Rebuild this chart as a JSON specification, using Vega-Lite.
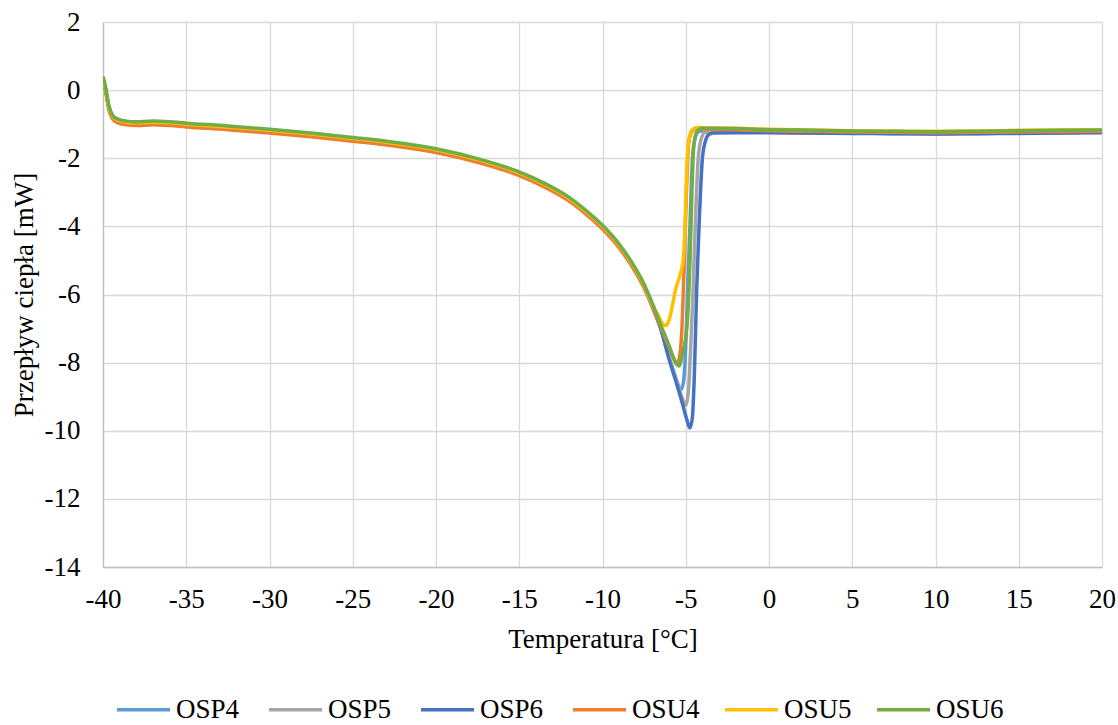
{
  "$schema": "https://vega.github.io/schema/vega-lite/v6.json",
  "width": 999,
  "height": 545,
  "autosize": "none",
  "padding": {"left": 103, "top": 22, "right": 16, "bottom": 158},
  "background": "white",
  "config": {
    "font": "Liberation Serif",
    "view": {"stroke": null},
    "axis": {"labelFont": "Liberation Serif", "titleFont": "Liberation Serif", "labelFontSize": 27, "titleFontSize": 27, "labelColor": "black", "titleColor": "black", "titleFontWeight": "normal", "gridColor": "#D9D9D9", "gridWidth": 1.3, "domainColor": "#BFBFBF", "domainWidth": 1.3, "ticks": false}
  },
  "data": {"values": [
    {"s":"OSP4","t":-40,"v":0.31},{"s":"OSP4","t":-39.85,"v":0.01},{"s":"OSP4","t":-39.65,"v":-0.54},{"s":"OSP4","t":-39.4,"v":-0.84},{"s":"OSP4","t":-39.1,"v":-0.94},{"s":"OSP4","t":-38.6,"v":-1.0},{"s":"OSP4","t":-38,"v":-1.02},{"s":"OSP4","t":-37,"v":-1.0},{"s":"OSP4","t":-36,"v":-1.02},{"s":"OSP4","t":-35,"v":-1.06},{"s":"OSP4","t":-32.5,"v":-1.14},{"s":"OSP4","t":-30,"v":-1.24},{"s":"OSP4","t":-27.5,"v":-1.35},{"s":"OSP4","t":-25,"v":-1.48},{"s":"OSP4","t":-22.5,"v":-1.62},{"s":"OSP4","t":-20,"v":-1.81},{"s":"OSP4","t":-17.5,"v":-2.1},{"s":"OSP4","t":-15,"v":-2.49},{"s":"OSP4","t":-13.5,"v":-2.82},{"s":"OSP4","t":-12,"v":-3.24},{"s":"OSP4","t":-11,"v":-3.62},{"s":"OSP4","t":-10,"v":-4.06},{"s":"OSP4","t":-9,"v":-4.61},{"s":"OSP4","t":-8,"v":-5.34},{"s":"OSP4","t":-7.5,"v":-5.79},{"s":"OSP4","t":-7,"v":-6.36},
    {"s":"OSP4","t":-6.5,"v":-7.02},{"s":"OSP4","t":-6,"v":-7.85},{"s":"OSP4","t":-5.7,"v":-8.3},{"s":"OSP4","t":-5.5,"v":-8.6},{"s":"OSP4","t":-5.3,"v":-8.8},{"s":"OSP4","t":-5.15,"v":-8.6},{"s":"OSP4","t":-5.0,"v":-7.5},{"s":"OSP4","t":-4.9,"v":-6.0},{"s":"OSP4","t":-4.75,"v":-4.0},{"s":"OSP4","t":-4.6,"v":-2.0},{"s":"OSP4","t":-4.45,"v":-1.45},{"s":"OSP4","t":-4.3,"v":-1.25},{"s":"OSP4","t":-4.1,"v":-1.2},{"s":"OSP4","t":-3.5,"v":-1.22},{"s":"OSP4","t":-2,"v":-1.23},{"s":"OSP4","t":0,"v":-1.24},{"s":"OSP4","t":2.5,"v":-1.25},{"s":"OSP4","t":5,"v":-1.26},{"s":"OSP4","t":7.5,"v":-1.27},{"s":"OSP4","t":10,"v":-1.28},{"s":"OSP4","t":12.5,"v":-1.27},{"s":"OSP4","t":15,"v":-1.26},{"s":"OSP4","t":17.5,"v":-1.25},{"s":"OSP4","t":20,"v":-1.24},

    {"s":"OSP5","t":-40,"v":0.33},{"s":"OSP5","t":-39.85,"v":0.03},{"s":"OSP5","t":-39.65,"v":-0.52},{"s":"OSP5","t":-39.4,"v":-0.82},{"s":"OSP5","t":-39.1,"v":-0.92},{"s":"OSP5","t":-38.6,"v":-0.98},{"s":"OSP5","t":-38,"v":-1.0},{"s":"OSP5","t":-37,"v":-0.98},{"s":"OSP5","t":-36,"v":-1.0},{"s":"OSP5","t":-35,"v":-1.04},{"s":"OSP5","t":-32.5,"v":-1.12},{"s":"OSP5","t":-30,"v":-1.22},{"s":"OSP5","t":-27.5,"v":-1.33},{"s":"OSP5","t":-25,"v":-1.46},{"s":"OSP5","t":-22.5,"v":-1.6},{"s":"OSP5","t":-20,"v":-1.79},{"s":"OSP5","t":-17.5,"v":-2.08},{"s":"OSP5","t":-15,"v":-2.47},{"s":"OSP5","t":-13.5,"v":-2.8},{"s":"OSP5","t":-12,"v":-3.22},{"s":"OSP5","t":-11,"v":-3.6},{"s":"OSP5","t":-10,"v":-4.04},{"s":"OSP5","t":-9,"v":-4.59},{"s":"OSP5","t":-8,"v":-5.32},{"s":"OSP5","t":-7.5,"v":-5.77},{"s":"OSP5","t":-7,"v":-6.34},
    {"s":"OSP5","t":-6.5,"v":-7.0},{"s":"OSP5","t":-6,"v":-7.85},{"s":"OSP5","t":-5.5,"v":-8.6},{"s":"OSP5","t":-5.2,"v":-9.05},{"s":"OSP5","t":-5.0,"v":-9.25},{"s":"OSP5","t":-4.85,"v":-8.9},{"s":"OSP5","t":-4.7,"v":-7.5},{"s":"OSP5","t":-4.56,"v":-5.9},{"s":"OSP5","t":-4.43,"v":-4.0},{"s":"OSP5","t":-4.25,"v":-2.0},{"s":"OSP5","t":-4.08,"v":-1.45},{"s":"OSP5","t":-3.85,"v":-1.24},{"s":"OSP5","t":-3.5,"v":-1.22},{"s":"OSP5","t":-2,"v":-1.23},{"s":"OSP5","t":0,"v":-1.24},{"s":"OSP5","t":2.5,"v":-1.25},{"s":"OSP5","t":5,"v":-1.26},{"s":"OSP5","t":7.5,"v":-1.27},{"s":"OSP5","t":10,"v":-1.28},{"s":"OSP5","t":12.5,"v":-1.27},{"s":"OSP5","t":15,"v":-1.26},{"s":"OSP5","t":17.5,"v":-1.25},{"s":"OSP5","t":20,"v":-1.24},

    {"s":"OSP6","t":-40,"v":0.34},{"s":"OSP6","t":-39.85,"v":0.04},{"s":"OSP6","t":-39.65,"v":-0.51},{"s":"OSP6","t":-39.4,"v":-0.81},{"s":"OSP6","t":-39.1,"v":-0.91},{"s":"OSP6","t":-38.6,"v":-0.97},{"s":"OSP6","t":-38,"v":-0.99},{"s":"OSP6","t":-37,"v":-0.97},{"s":"OSP6","t":-36,"v":-0.99},{"s":"OSP6","t":-35,"v":-1.03},{"s":"OSP6","t":-32.5,"v":-1.11},{"s":"OSP6","t":-30,"v":-1.21},{"s":"OSP6","t":-27.5,"v":-1.32},{"s":"OSP6","t":-25,"v":-1.45},{"s":"OSP6","t":-22.5,"v":-1.59},{"s":"OSP6","t":-20,"v":-1.78},{"s":"OSP6","t":-17.5,"v":-2.07},{"s":"OSP6","t":-15,"v":-2.46},{"s":"OSP6","t":-13.5,"v":-2.79},{"s":"OSP6","t":-12,"v":-3.21},{"s":"OSP6","t":-11,"v":-3.59},{"s":"OSP6","t":-10,"v":-4.03},{"s":"OSP6","t":-9,"v":-4.58},{"s":"OSP6","t":-8,"v":-5.31},{"s":"OSP6","t":-7.5,"v":-5.76},{"s":"OSP6","t":-7,"v":-6.33},
    {"s":"OSP6","t":-6.5,"v":-7.0},{"s":"OSP6","t":-6,"v":-7.9},{"s":"OSP6","t":-5.5,"v":-8.7},{"s":"OSP6","t":-5.2,"v":-9.2},{"s":"OSP6","t":-4.95,"v":-9.65},{"s":"OSP6","t":-4.75,"v":-9.92},{"s":"OSP6","t":-4.6,"v":-9.6},{"s":"OSP6","t":-4.48,"v":-8.3},{"s":"OSP6","t":-4.35,"v":-5.95},{"s":"OSP6","t":-4.2,"v":-3.97},{"s":"OSP6","t":-4.0,"v":-2.0},{"s":"OSP6","t":-3.82,"v":-1.5},{"s":"OSP6","t":-3.6,"v":-1.3},{"s":"OSP6","t":-3.3,"v":-1.26},{"s":"OSP6","t":-2,"v":-1.25},{"s":"OSP6","t":0,"v":-1.25},{"s":"OSP6","t":2.5,"v":-1.26},{"s":"OSP6","t":5,"v":-1.27},{"s":"OSP6","t":7.5,"v":-1.28},{"s":"OSP6","t":10,"v":-1.29},{"s":"OSP6","t":12.5,"v":-1.28},{"s":"OSP6","t":15,"v":-1.27},{"s":"OSP6","t":17.5,"v":-1.26},{"s":"OSP6","t":20,"v":-1.25},

    {"s":"OSU4","t":-40,"v":0.29},{"s":"OSU4","t":-39.85,"v":-0.01},{"s":"OSU4","t":-39.65,"v":-0.56},{"s":"OSU4","t":-39.4,"v":-0.86},{"s":"OSU4","t":-39.1,"v":-0.96},{"s":"OSU4","t":-38.6,"v":-1.02},{"s":"OSU4","t":-38,"v":-1.04},{"s":"OSU4","t":-37,"v":-1.02},{"s":"OSU4","t":-36,"v":-1.04},{"s":"OSU4","t":-35,"v":-1.08},{"s":"OSU4","t":-32.5,"v":-1.16},{"s":"OSU4","t":-30,"v":-1.26},{"s":"OSU4","t":-27.5,"v":-1.37},{"s":"OSU4","t":-25,"v":-1.5},{"s":"OSU4","t":-22.5,"v":-1.64},{"s":"OSU4","t":-20,"v":-1.83},{"s":"OSU4","t":-17.5,"v":-2.12},{"s":"OSU4","t":-15,"v":-2.51},{"s":"OSU4","t":-13.5,"v":-2.84},{"s":"OSU4","t":-12,"v":-3.26},{"s":"OSU4","t":-11,"v":-3.64},{"s":"OSU4","t":-10,"v":-4.08},{"s":"OSU4","t":-9,"v":-4.63},{"s":"OSU4","t":-8,"v":-5.36},{"s":"OSU4","t":-7.5,"v":-5.81},{"s":"OSU4","t":-7,"v":-6.38},
    {"s":"OSU4","t":-6.5,"v":-6.97},{"s":"OSU4","t":-6,"v":-7.55},{"s":"OSU4","t":-5.75,"v":-7.85},{"s":"OSU4","t":-5.55,"v":-8.05},{"s":"OSU4","t":-5.38,"v":-7.85},{"s":"OSU4","t":-5.22,"v":-6.9},{"s":"OSU4","t":-5.08,"v":-4.95},{"s":"OSU4","t":-4.96,"v":-3.0},{"s":"OSU4","t":-4.82,"v":-1.55},{"s":"OSU4","t":-4.6,"v":-1.2},{"s":"OSU4","t":-4.4,"v":-1.14},{"s":"OSU4","t":-3.5,"v":-1.15},{"s":"OSU4","t":-2,"v":-1.16},{"s":"OSU4","t":0,"v":-1.19},{"s":"OSU4","t":2.5,"v":-1.21},{"s":"OSU4","t":5,"v":-1.23},{"s":"OSU4","t":7.5,"v":-1.24},{"s":"OSU4","t":10,"v":-1.25},{"s":"OSU4","t":12.5,"v":-1.24},{"s":"OSU4","t":15,"v":-1.23},{"s":"OSU4","t":17.5,"v":-1.22},{"s":"OSU4","t":20,"v":-1.21},

    {"s":"OSU5","t":-40,"v":0.37},{"s":"OSU5","t":-39.85,"v":0.07},{"s":"OSU5","t":-39.65,"v":-0.48},{"s":"OSU5","t":-39.4,"v":-0.78},{"s":"OSU5","t":-39.1,"v":-0.88},{"s":"OSU5","t":-38.6,"v":-0.94},{"s":"OSU5","t":-38,"v":-0.96},{"s":"OSU5","t":-37,"v":-0.94},{"s":"OSU5","t":-36,"v":-0.96},{"s":"OSU5","t":-35,"v":-1.0},{"s":"OSU5","t":-32.5,"v":-1.08},{"s":"OSU5","t":-30,"v":-1.18},{"s":"OSU5","t":-27.5,"v":-1.29},{"s":"OSU5","t":-25,"v":-1.42},{"s":"OSU5","t":-22.5,"v":-1.56},{"s":"OSU5","t":-20,"v":-1.75},{"s":"OSU5","t":-17.5,"v":-2.04},{"s":"OSU5","t":-15,"v":-2.43},{"s":"OSU5","t":-13.5,"v":-2.76},{"s":"OSU5","t":-12,"v":-3.18},{"s":"OSU5","t":-11,"v":-3.56},{"s":"OSU5","t":-10,"v":-4.0},{"s":"OSU5","t":-9,"v":-4.55},{"s":"OSU5","t":-8,"v":-5.28},{"s":"OSU5","t":-7.5,"v":-5.73},{"s":"OSU5","t":-7,"v":-6.3},
    {"s":"OSU5","t":-6.65,"v":-6.62},{"s":"OSU5","t":-6.4,"v":-6.85},{"s":"OSU5","t":-6.2,"v":-6.92},{"s":"OSU5","t":-6.0,"v":-6.75},{"s":"OSU5","t":-5.75,"v":-6.2},{"s":"OSU5","t":-5.6,"v":-5.83},{"s":"OSU5","t":-5.35,"v":-5.44},{"s":"OSU5","t":-5.15,"v":-4.95},{"s":"OSU5","t":-5.04,"v":-3.97},{"s":"OSU5","t":-4.94,"v":-2.3},{"s":"OSU5","t":-4.8,"v":-1.42},{"s":"OSU5","t":-4.6,"v":-1.16},{"s":"OSU5","t":-4.3,"v":-1.1},{"s":"OSU5","t":-3.5,"v":-1.11},{"s":"OSU5","t":-2,"v":-1.12},{"s":"OSU5","t":0,"v":-1.15},{"s":"OSU5","t":2.5,"v":-1.17},{"s":"OSU5","t":5,"v":-1.19},{"s":"OSU5","t":7.5,"v":-1.2},{"s":"OSU5","t":10,"v":-1.21},{"s":"OSU5","t":12.5,"v":-1.2},{"s":"OSU5","t":15,"v":-1.18},{"s":"OSU5","t":17.5,"v":-1.17},{"s":"OSU5","t":20,"v":-1.16},

    {"s":"OSU6","t":-40,"v":0.4},{"s":"OSU6","t":-39.85,"v":0.1},{"s":"OSU6","t":-39.65,"v":-0.45},{"s":"OSU6","t":-39.4,"v":-0.75},{"s":"OSU6","t":-39.1,"v":-0.85},{"s":"OSU6","t":-38.6,"v":-0.91},{"s":"OSU6","t":-38,"v":-0.93},{"s":"OSU6","t":-37,"v":-0.91},{"s":"OSU6","t":-36,"v":-0.93},{"s":"OSU6","t":-35,"v":-0.97},{"s":"OSU6","t":-32.5,"v":-1.05},{"s":"OSU6","t":-30,"v":-1.15},{"s":"OSU6","t":-27.5,"v":-1.26},{"s":"OSU6","t":-25,"v":-1.39},{"s":"OSU6","t":-22.5,"v":-1.53},{"s":"OSU6","t":-20,"v":-1.72},{"s":"OSU6","t":-17.5,"v":-2.01},{"s":"OSU6","t":-15,"v":-2.4},{"s":"OSU6","t":-13.5,"v":-2.73},{"s":"OSU6","t":-12,"v":-3.15},{"s":"OSU6","t":-11,"v":-3.53},{"s":"OSU6","t":-10,"v":-3.97},{"s":"OSU6","t":-9,"v":-4.52},{"s":"OSU6","t":-8,"v":-5.25},{"s":"OSU6","t":-7.5,"v":-5.7},{"s":"OSU6","t":-7,"v":-6.27},
    {"s":"OSU6","t":-6.5,"v":-6.9},{"s":"OSU6","t":-6,"v":-7.5},{"s":"OSU6","t":-5.7,"v":-7.9},{"s":"OSU6","t":-5.4,"v":-8.1},{"s":"OSU6","t":-5.2,"v":-7.75},{"s":"OSU6","t":-4.92,"v":-6.9},{"s":"OSU6","t":-4.74,"v":-4.95},{"s":"OSU6","t":-4.63,"v":-3.0},{"s":"OSU6","t":-4.5,"v":-1.52},{"s":"OSU6","t":-4.28,"v":-1.18},{"s":"OSU6","t":-4.0,"v":-1.12},{"s":"OSU6","t":-3.5,"v":-1.12},{"s":"OSU6","t":-2,"v":-1.13},{"s":"OSU6","t":0,"v":-1.16},{"s":"OSU6","t":2.5,"v":-1.18},{"s":"OSU6","t":5,"v":-1.2},{"s":"OSU6","t":7.5,"v":-1.21},{"s":"OSU6","t":10,"v":-1.22},{"s":"OSU6","t":12.5,"v":-1.21},{"s":"OSU6","t":15,"v":-1.19},{"s":"OSU6","t":17.5,"v":-1.18},{"s":"OSU6","t":20,"v":-1.17}
  ]},
  "mark": {"type": "line", "interpolate": "monotone", "strokeWidth": 3.5, "clip": true},
  "encoding": {
    "x": {"field": "t", "type": "quantitative", "scale": {"domain": [-40, 20], "nice": false, "zero": false},
      "axis": {"values": [-40,-35,-30,-25,-20,-15,-10,-5,0,5,10,15,20], "labelExpr": "'' + datum.value", "title": "Temperatura [°C]", "labelPadding": 19, "titlePadding": 14, "labelFlush": false}},
    "y": {"field": "v", "type": "quantitative", "scale": {"domain": [-14, 2], "nice": false, "zero": false},
      "axis": {"values": [-14,-12,-10,-8,-6,-4,-2,0,2], "labelExpr": "'' + datum.value", "title": "Przepływ ciepła [mW]", "labelPadding": 23, "titlePadding": 6, "labelFlush": false}},
    "color": {"field": "s", "type": "nominal", "title": null,
      "scale": {"domain": ["OSP4","OSP5","OSP6","OSU4","OSU5","OSU6"], "range": ["#5B9BD5","#A5A5A5","#4472C4","#ED7D31","#FFC000","#70AD47"]},
      "legend": {"orient": "none", "direction": "horizontal", "legendX": 12, "legendY": 659, "symbolType": "stroke", "symbolSize": 2809, "symbolStrokeWidth": 3.5, "labelFont": "Liberation Serif", "labelFontSize": 27, "labelColor": "black", "labelOffset": 4, "columnPadding": 18, "gridAlign": "all", "symbolOffset": 0}}
  }
}
